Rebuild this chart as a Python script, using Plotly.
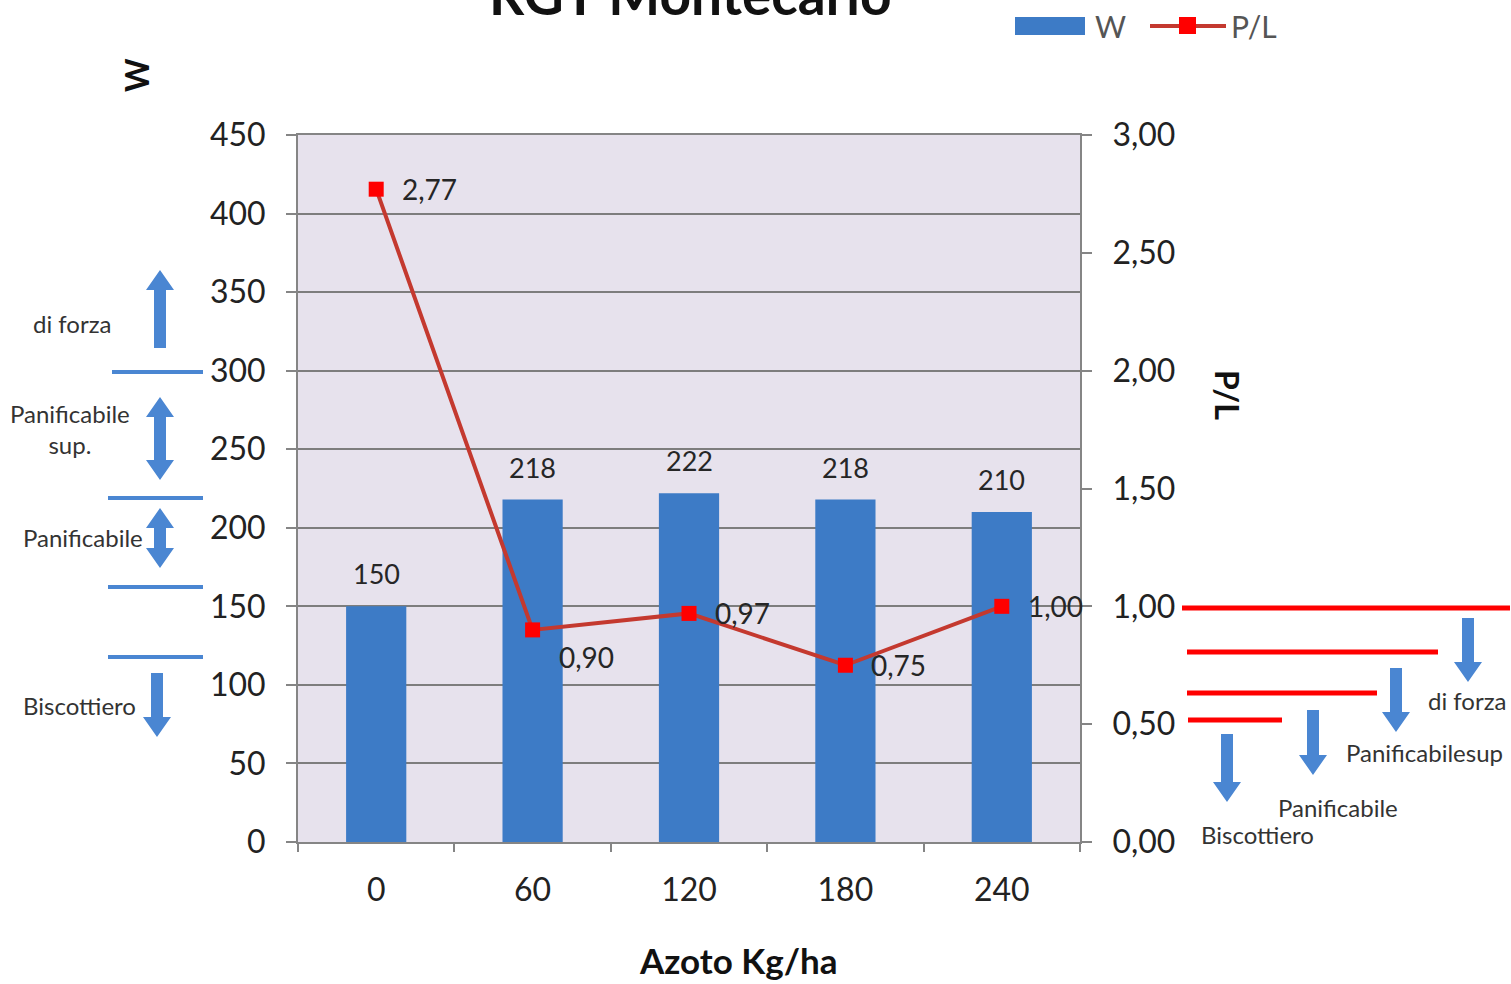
import plotly.graph_objects as go

# ---------------- data ----------------
categories = ["0", "60", "120", "180", "240"]
w_values = [150, 218, 222, 218, 210]
pl_values = [2.77, 0.90, 0.97, 0.75, 1.00]
pl_label_pos = ["right", "below", "right", "right", "right"]

w_ticks = [0, 50, 100, 150, 200, 250, 300, 350, 400, 450]
pl_ticks = [0, 0.5, 1.0, 1.5, 2.0, 2.5, 3.0]

left_classes = ["di forza", "Panificabile<br>sup.", "Panificabile", "Biscottiero"]
right_classes = ["di forza", "Panificabilesup", "Panificabile", "Biscottiero"]

# ---------------- geometry helpers ----------------
W_PX, H_PX = 1511, 984
L, R, T, B = 298, 431, 135, 142
PW = W_PX - L - R
PH = H_PX - T - B
FONT = "Lato, Open Sans, sans-serif"


def px(x):
    return (x - L) / PW


def py(y):
    return (H_PX - B - y) / PH


def arrow_path(x, y_top, y_bot, up, down, s=12, h=28, hl=20):
    st = y_top + hl if up else y_top
    sb = y_bot - hl if down else y_bot
    pts = []
    if up:
        pts += [(x, y_top), (x + h / 2, st), (x + s / 2, st)]
    else:
        pts += [(x + s / 2, y_top)]
    if down:
        pts += [(x + s / 2, sb), (x + h / 2, sb), (x, y_bot), (x - h / 2, sb), (x - s / 2, sb)]
    else:
        pts += [(x + s / 2, y_bot), (x - s / 2, y_bot)]
    if up:
        pts += [(x - s / 2, st), (x - h / 2, st)]
    else:
        pts += [(x - s / 2, y_top)]
    return "M" + " L".join(f"{px(a):.5f},{py(b):.5f}" for a, b in pts) + " Z"


def fmt(v):
    return f"{v:.2f}".replace(".", ",")


def note(x, y, text, size, color="#333333", angle=0, xanchor="center"):
    return dict(x=px(x), y=py(y), xref="paper", yref="paper", text=text, showarrow=False,
                xanchor=xanchor, yanchor="middle", textangle=angle,
                font=dict(family=FONT, size=size, color=color))


fig = go.Figure()

fig.add_trace(go.Bar(
    x=categories, y=w_values, name="W",
    marker=dict(color="#3D7BC6", line=dict(width=0)),
    yaxis="y", showlegend=False,
))
fig.add_trace(go.Scatter(
    x=categories, y=pl_values, name="P/L", mode="lines+markers",
    line=dict(color="#C4392F", width=4),
    marker=dict(symbol="square", size=15, color="#FF0000"),
    yaxis="y2", showlegend=False,
))

annotations = []
shapes = []
TXT = "#262626"

# bar value labels (category index positions on the category axis)
for i, v in enumerate(w_values):
    annotations.append(dict(x=i, y=v, xref="x", yref="y", text=str(v), showarrow=False,
                            xanchor="center", yanchor="bottom", yshift=14,
                            font=dict(family=FONT, size=27, color=TXT)))
# P/L value labels
for i, (v, pos) in enumerate(zip(pl_values, pl_label_pos)):
    annotations.append(dict(x=i, y=v, xref="x", yref="y2", text=fmt(v), showarrow=False,
                            xanchor="left", yanchor="middle", xshift=24,
                            yshift=-27 if pos == "below" else 0,
                            font=dict(family=FONT, size=28, color=TXT)))

# title (cut off at top, as in the original)
annotations.append(note(690, -6, "<b>RGT Montecarlo</b>", 55, "#111111"))
# axis titles
annotations.append(note(137, 75, "<b>W</b>", 32, "#111111", angle=-90))
annotations.append(note(1228, 395, "<b>P/L</b>", 32, "#111111", angle=90))
annotations.append(note(738, 960, "<b>Azoto Kg/ha</b>", 35, "#111111"))

# manual legend
shapes.append(dict(type="rect", xref="paper", yref="paper", x0=px(1015), x1=px(1085), y0=py(35), y1=py(17),
                   fillcolor="#3D7BC6", line=dict(width=0)))
annotations.append(note(1093, 26, "W", 30, "#555555", xanchor="left"))
shapes.append(dict(type="line", xref="paper", yref="paper", x0=px(1150), x1=px(1226), y0=py(26), y1=py(26),
                   line=dict(color="#C4392F", width=4)))
shapes.append(dict(type="rect", xref="paper", yref="paper", x0=px(1179), x1=px(1196), y0=py(34), y1=py(17),
                   fillcolor="#FF0000", line=dict(width=0)))
annotations.append(note(1229, 26, "P/L", 30, "#555555", xanchor="left"))

# left side W classes
BLUE = "#4A86D2"
for y in [372, 498, 587, 657]:
    x0 = 112 if y == 372 else 108
    shapes.append(dict(type="line", xref="paper", yref="paper", x0=px(x0), x1=px(203), y0=py(y), y1=py(y),
                       line=dict(color=BLUE, width=4)))
left_arrows = [(160, 270, 348, True, False), (160, 397, 480, True, True),
               (160, 508, 568, True, True), (157, 673, 737, False, True)]
for x, yt, yb, u, d in left_arrows:
    shapes.append(dict(type="path", xref="paper", yref="paper", path=arrow_path(x, yt, yb, u, d),
                       fillcolor=BLUE, line=dict(width=0)))
left_text_pos = [(72, 323), (70, 429), (83, 537), (80, 705)]
for t, (x, y) in zip(left_classes, left_text_pos):
    annotations.append(note(x, y, t, 24))

# right side P/L classes
RED = "#FF0000"
red_lines = [(1182, 1510, 608), (1187, 1438, 652), (1187, 1377, 693), (1188, 1282, 720)]
for x0, x1, y in red_lines:
    shapes.append(dict(type="line", xref="paper", yref="paper", x0=px(x0), x1=px(x1), y0=py(y), y1=py(y),
                       line=dict(color=RED, width=5)))
right_arrows = [(1468, 618, 682), (1396, 668, 732), (1313, 710, 775), (1227, 734, 802)]
for x, yt, yb in right_arrows:
    shapes.append(dict(type="path", xref="paper", yref="paper", path=arrow_path(x, yt, yb, False, True),
                       fillcolor=BLUE, line=dict(width=0)))
right_text_pos = [(1467, 700), (1424, 752), (1338, 807), (1257, 834)]
for t, (x, y) in zip(right_classes, right_text_pos):
    annotations.append(note(x, y, t, 24))

AX = "#858585"
fig.update_layout(
    width=W_PX, height=H_PX,
    margin=dict(l=L, r=R, t=T, b=B, pad=0),
    paper_bgcolor="white",
    plot_bgcolor="#E7E2ED",
    separators=",.",
    bargap=0.615,
    font=dict(family=FONT, size=32, color="#222222"),
    xaxis=dict(type="category", range=[-0.5, len(categories) - 0.5],
               showline=True, linecolor=AX, linewidth=2, mirror=True,
               ticks="outside", tickson="boundaries", ticklen=8, tickcolor=AX, tickwidth=2,
               ticklabelstandoff=19, showgrid=False, tickangle=0,
               tickfont=dict(family=FONT, size=32, color="#222222")),
    yaxis=dict(range=[0, 450], tickvals=w_ticks, showline=True, linecolor=AX, linewidth=2,
               ticks="outside", ticklen=10, tickcolor=AX, tickwidth=2, ticklabelstandoff=14,
               showgrid=True, gridcolor="#7D7D7D", gridwidth=2, zeroline=False,
               tickfont=dict(family=FONT, size=32, color="#222222")),
    yaxis2=dict(range=[0, 3], tickvals=pl_ticks, tickformat=".2f", overlaying="y", side="right",
                showline=True, linecolor=AX, linewidth=2, ticks="outside", ticklen=10, tickcolor=AX,
                tickwidth=2, ticklabelstandoff=14, showgrid=False, zeroline=False,
                tickfont=dict(family=FONT, size=32, color="#222222")),
    annotations=annotations,
    shapes=shapes,
    showlegend=False,
)

fig.write_html("out.html", config={"displayModeBar": False},
               post_script="document.body.style.margin='0';")
